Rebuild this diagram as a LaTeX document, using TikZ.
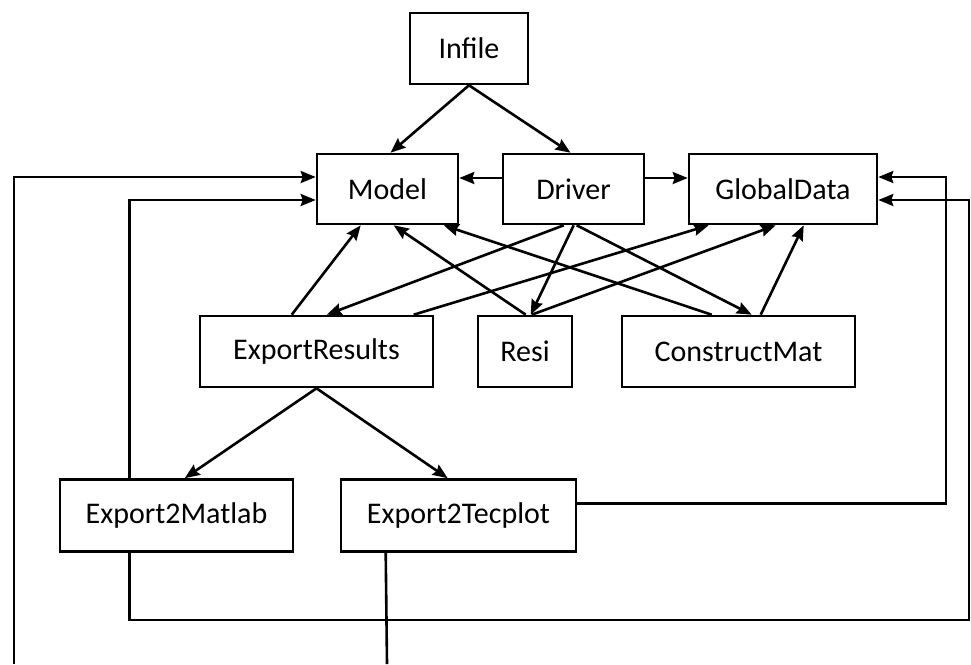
\documentclass[tikz,border=0pt]{standalone}
\usepackage{fontspec}
\setmainfont{Carlito}
\usetikzlibrary{arrows.meta}
\begin{document}
\begin{tikzpicture}[x=1pt,y=-1pt,
  box/.style={draw,line width=2.6pt,inner sep=0pt,font=\fontsize{30}{36}\selectfont,anchor=center},
  conn/.style={line width=2.6pt},
  arr/.style={conn,-{Stealth[length=15pt,width=12pt,inset=2pt]}}]
\useasboundingbox (0,0) rectangle (971,664);
\node[box,minimum width=118pt,minimum height=71pt] (infile) at (469,48.5) {Infile};
\node[box,minimum width=141pt,minimum height=70pt] (model) at (387.5,189) {Model};
\node[box,minimum width=141pt,minimum height=70pt] (driver) at (573.5,189) {Driver};
\node[box,minimum width=188pt,minimum height=70pt] (gd) at (783,189) {GlobalData};
\node[box,minimum width=233pt,minimum height=71pt] (er) at (316.5,351.5) {ExportResults};
\node[box,minimum width=94pt,minimum height=71pt] (resi) at (525,351.5) {Resi};
\node[box,minimum width=233pt,minimum height=71pt] (cm) at (738.5,351.5) {ConstructMat};
\node[box,minimum width=233pt,minimum height=72pt] (e2m) at (176.5,515.5) {Export2Matlab};
\node[box,minimum width=235pt,minimum height=72pt] (e2t) at (458.5,515.5) {Export2Tecplot};
\coordinate (bl) at (14,664);
\coordinate (rc1) at (946,177);
\coordinate (rc2) at (969,620);
\coordinate (tb) at (387,664);
% Infile
\draw[arr] (infile.south) -- ([xshift=3pt]model.north);
\draw[arr] (infile.south) -- ([xshift=-3pt]driver.north);
% Driver horizontal
\draw[arr] ([yshift=11pt]driver.west) -- ([yshift=11pt]model.east);
\draw[arr] ([yshift=11pt]driver.east) -- ([yshift=11pt]gd.west);
% to Model
\draw[arr] ([xshift=93pt]er.north west) -- ([xshift=45pt]model.south west);
\draw[arr] ([xshift=49pt]resi.north west) -- ([xshift=78pt]model.south west);
\draw[arr] ([xshift=91pt]cm.north west) -- ([xshift=128pt]model.south west);
% from Driver
\draw[arr] ([xshift=62pt]driver.south west) -- ([xshift=128pt]er.north west);
\draw[arr] ([xshift=72pt]driver.south west) -- ([xshift=54pt]resi.north west);
\draw[arr] ([xshift=75pt]driver.south west) -- ([xshift=131pt]cm.north west);
% to GlobalData
\draw[arr] ([xshift=215pt]er.north west) -- ([xshift=21pt]gd.south west);
\draw[arr] ([xshift=55pt]resi.north west) -- ([xshift=88pt]gd.south west);
\draw[arr] ([xshift=140pt]cm.north west) -- ([xshift=116pt]gd.south west);
% ExportResults children
\draw[arr] (er.south) -- ([xshift=126pt]e2m.north west);
\draw[arr] (er.south) -- ([xshift=108pt]e2t.north west);
% long feedback lines
\draw[arr] (bl) |- ([yshift=12pt]model.west);
\draw[arr] ([xshift=71pt]e2m.north west) |- ([yshift=-11pt]model.west);
\draw[arr] ([xshift=71pt]e2m.south west) |- (rc2) |- ([yshift=-11pt]gd.east);
\draw[arr] ([yshift=12pt]e2t.east) -| (rc1) -- ([yshift=12pt]gd.east);
\draw[conn] ([xshift=46pt]e2t.south west) -- (tb);
\end{tikzpicture}
\end{document}
